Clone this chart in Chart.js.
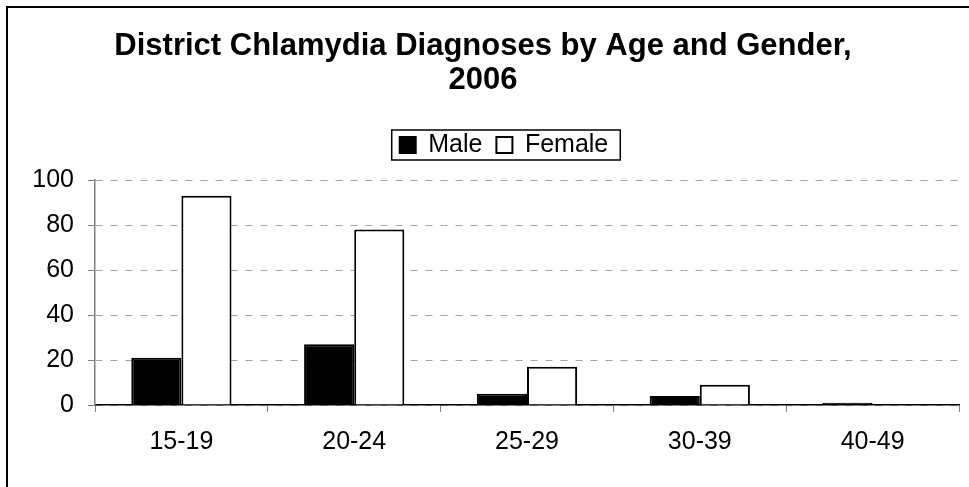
<!DOCTYPE html>
<html>
<head>
<meta charset="utf-8">
<script src="https://cdn.jsdelivr.net/npm/chart.js@4"></script>
<style>
  html, body { margin: 0; padding: 0; background: #fff; }
  #wrap { width: 969px; height: 487px; }
</style>
</head>
<body>
<div id="wrap"><canvas id="chart" width="969" height="487"></canvas></div>
<script>
  const ageGroups = ['15-19', '20-24', '25-29', '30-39', '40-49'];
  const maleCounts = [21, 27, 5, 4, 1];
  const femaleCounts = [93, 78, 17, 9, 0];
  const yTicks = [0, 20, 40, 60, 80, 100];

  const FONT = "Arial, 'Liberation Sans', sans-serif";

  // frame round the whole chart, only top and left edges fall inside the picture
  const framePlugin = {
    id: 'frame',
    beforeDraw(chart) {
      const { ctx } = chart;
      ctx.save();
      ctx.fillStyle = '#fff';
      ctx.fillRect(0, 0, chart.width, chart.height);
      ctx.strokeStyle = '#000';
      ctx.lineWidth = 2;
      ctx.strokeRect(7, 7, 1000, 1000);
      ctx.restore();
    },
  };

  // legend: extra gap below, shift right a bit, box around it
  const legendBoxPlugin = {
    id: 'legendBox',
    beforeInit(chart) {
      const origFit = chart.legend.fit;
      chart.legend.fit = function () {
        origFit.call(this);
        this.height += 12.5;
      };
    },
    afterLayout(chart) {
      chart.legend.left += 21;
      chart.legend.right += 21;
    },
    afterDraw(chart) {
      const lg = chart.legend;
      const pad = lg.options.labels.padding;
      const lw = lg.lineWidths[0];
      const start = (lg.left + pad + lg.right - lw) / 2;
      const end = start + lw - pad;
      const { ctx } = chart;
      ctx.save();
      ctx.strokeStyle = '#000';
      ctx.lineWidth = 1.5;
      ctx.strokeRect(start - 8, 130, end - start + 20, 30);
      ctx.restore();
    },
  };

  const ctx = document.getElementById('chart').getContext('2d');
  new Chart(ctx, {
    type: 'bar',
    data: {
      labels: ageGroups,
      datasets: [
        {
          label: 'Male',
          data: maleCounts,
          backgroundColor: '#000',
          borderColor: '#000',
          borderWidth: 2,
        },
        {
          label: 'Female',
          data: femaleCounts,
          backgroundColor: '#fff',
          borderColor: '#000',
          borderWidth: 2,
        },
      ],
    },
    options: {
      responsive: false,
      animation: false,
      layout: { padding: { left: 7, right: 10, top: 0, bottom: 0 } },
      datasets: {
        bar: { categoryPercentage: 0.58, barPercentage: 1.0 },
      },
      plugins: {
        tooltip: { enabled: false },
        title: {
          display: true,
          text: ['District Chlamydia Diagnoses by Age and Gender,', '2006'],
          color: '#000',
          font: { family: FONT, size: 31, weight: 'bold', lineHeight: 34 / 31 },
          padding: { top: 29, bottom: 21.5 },
        },
        legend: {
          display: true,
          position: 'top',
          labels: {
            color: '#000',
            font: { family: FONT, size: 25 },
            boxWidth: 16,
            boxHeight: 16,
            padding: 14,
          },
        },
      },
      scales: {
        x: {
          afterFit(scale) { scale.height = 82; },
          grid: {
            offset: true,
            drawOnChartArea: false,
            drawTicks: true,
            tickLength: 7,
            color: '#808080',
          },
          border: { color: '#000', width: 1.5 },
          ticks: {
            color: '#000',
            font: { family: FONT, size: 25 },
            padding: 15,
            maxRotation: 0,
          },
        },
        y: {
          min: 0,
          max: 100,
          afterFit(scale) { scale.width = 88; },
          afterBuildTicks(scale) {
            scale.ticks = yTicks.map(v => ({ value: v }));
          },
          grid: {
            color: '#a6a6a6',
            tickColor: '#808080',
            tickLength: 7,
            tickBorderDash: [],
          },
          border: { color: '#808080', width: 1.5, dash: [7, 8] },
          ticks: {
            color: '#000',
            font: { family: FONT, size: 25 },
            padding: 14,
          },
        },
      },
    },
    plugins: [framePlugin, legendBoxPlugin],
  });
</script>
</body>
</html>
